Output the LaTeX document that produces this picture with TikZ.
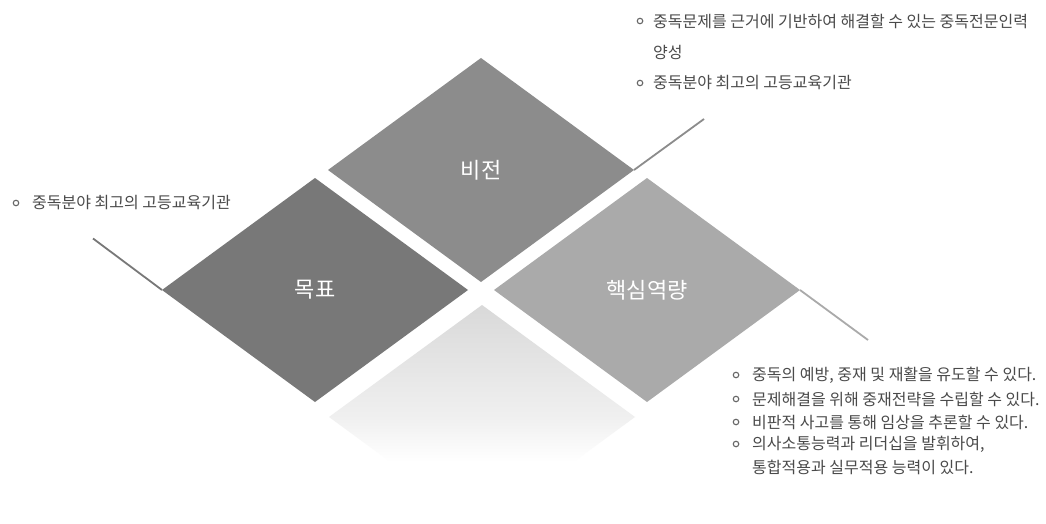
\documentclass[tikz,border=0pt]{standalone}
\usepackage{fontspec}
\setmainfont{Noto Sans CJK KR}
\usetikzlibrary{shapes.geometric}
\definecolor{goalc}{HTML}{787878}
\definecolor{visc}{HTML}{8C8C8C}
\definecolor{corec}{HTML}{AAAAAA}
\definecolor{txtc}{HTML}{4A4A4A}
\definecolor{bulc}{HTML}{666666}
\pgfdeclareverticalshading{basefade}{100bp}{color(0bp)=(white); color(40bp)=(white); color(50bp)=(white!94!black); color(75bp)=(white!85!black); color(100bp)=(white!85!black)}
\tikzset{
  dia/.style={diamond, shape aspect=1.366, minimum width=306pt, minimum height=224pt,
    inner sep=0pt, outer sep=0pt, text=white, font=\fontsize{22}{25}\selectfont},
  edge/.style={line width=1.8pt},
  bul/.style={circle, draw=bulc, line width=1.1pt, minimum size=5.5pt, inner sep=0pt},
  itemtext/.style={anchor=west, inner sep=0pt, text=txtc, font=\fontsize{16}{19}\selectfont}
}
\begin{document}
\begin{tikzpicture}[x=1pt,y=-1pt]
\useasboundingbox (0,0) rectangle (1046,524);
\fill[white] (0,0) rectangle (1046,524);
% bottom faded diamond
\node[dia, shading=basefade] (base) at (482,417) {};
% main diamonds
\node[dia, fill=visc] (vision) at (481,170) {비전};
\node[dia, fill=goalc] (goal) at (315,290) {목표};
\node[dia, fill=corec] (core) at (647,290) {핵심역량};
% extension lines
\coordinate (lg) at (93,238.5);
\coordinate (lv) at (704,119);
\coordinate (lc) at (868,340);
\draw[edge, goalc] (goal.west) -- (lg);
\draw[edge, visc] (vision.east) -- (lv);
\draw[edge, corec] (core.east) -- (lc);
% top texts
\node[bul] (tb1) at (640,21) {};
\node[itemtext] (tt1) at (653,21) {중독문제를 근거에 기반하여 해결할 수 있는 중독전문인력};
\node[itemtext] (tt2) at (653,52) {양성};
\node[bul] (tb3) at (640,83) {};
\node[itemtext] (tt3) at (653,83) {중독분야 최고의 고등교육기관};
% left text
\node[bul] (lb1) at (16,203) {};
\node[itemtext] (lt1) at (32,203) {중독분야 최고의 고등교육기관};
% bottom-right texts
\node[bul] (rb1) at (736,375) {};
\node[itemtext] (rt1) at (752,375) {중독의 예방, 중재 및 재활을 유도할 수 있다.};
\node[bul] (rb2) at (736,399) {};
\node[itemtext] (rt2) at (752,399) {문제해결을 위해 중재전략을 수립할 수 있다.};
\node[bul] (rb3) at (736,422) {};
\node[itemtext] (rt3) at (752,422) {비판적 사고를 통해 임상을 추론할 수 있다.};
\node[bul] (rb4) at (736,444) {};
\node[itemtext] (rt4) at (752,444) {의사소통능력과 리더십을 발휘하여,};
\node[itemtext] (rt5) at (752,467) {통합적용과 실무적용 능력이 있다.};
\end{tikzpicture}
\end{document}
